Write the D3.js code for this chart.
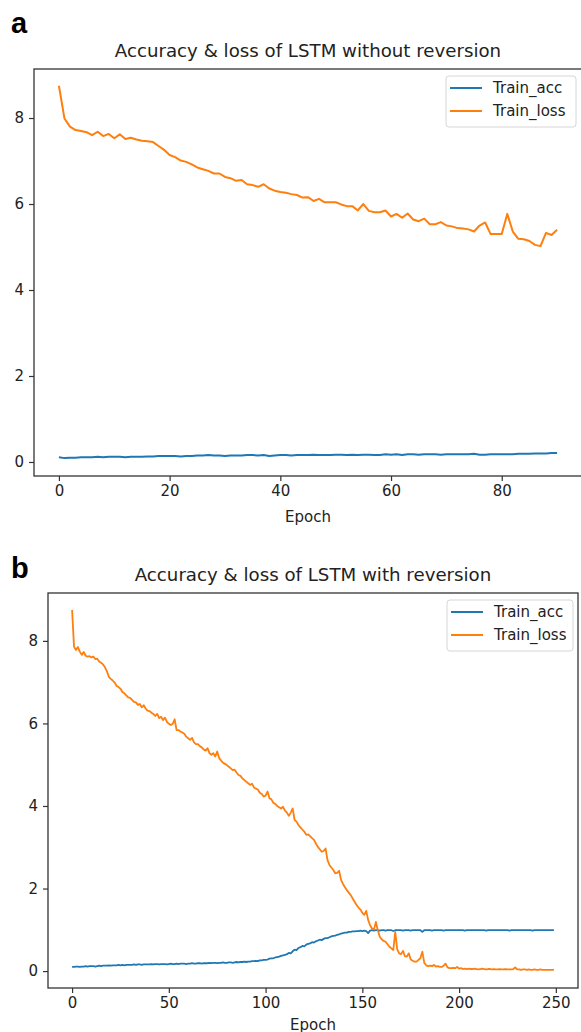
<!DOCTYPE html>
<html>
<head>
<meta charset="utf-8">
<script src="https://cdn.jsdelivr.net/npm/d3@7.9.0/dist/d3.min.js"></script>
<style>
  html, body { margin: 0; padding: 0; background: #fff; }
  svg { display: block; }
  text { font-family: "DejaVu Sans", sans-serif; fill: #222; }
</style>
</head>
<body>
<svg id="chart" width="581" height="1032"></svg>
<script>
// Panel a: LSTM without reversion (epochs 0..90)
const lossA = [
  8.75, 7.99, 7.80, 7.72, 7.70, 7.67, 7.60, 7.68, 7.58, 7.63,
  7.53, 7.62, 7.51, 7.54, 7.50, 7.47, 7.46, 7.44, 7.35, 7.26,
  7.14, 7.09, 7.01, 6.98, 6.92, 6.85, 6.81, 6.77, 6.71, 6.71,
  6.63, 6.60, 6.54, 6.56, 6.46, 6.44, 6.40, 6.46, 6.36, 6.31,
  6.28, 6.26, 6.23, 6.21, 6.15, 6.16, 6.07, 6.12, 6.04, 6.04,
  6.04, 5.99, 5.95, 5.95, 5.85, 6.00, 5.84, 5.81, 5.81, 5.85,
  5.71, 5.77, 5.68, 5.78, 5.64, 5.60, 5.66, 5.53, 5.53, 5.58,
  5.50, 5.48, 5.44, 5.43, 5.41, 5.36, 5.50, 5.57, 5.30, 5.30,
  5.30, 5.77, 5.36, 5.19, 5.18, 5.14, 5.05, 5.02, 5.33, 5.28, 5.40
];
const accA = [
  0.11, 0.09, 0.10, 0.10, 0.11, 0.11, 0.11, 0.12, 0.11, 0.12,
  0.12, 0.12, 0.11, 0.12, 0.12, 0.12, 0.13, 0.13, 0.14, 0.14,
  0.14, 0.14, 0.13, 0.14, 0.14, 0.15, 0.15, 0.16, 0.15, 0.15,
  0.14, 0.15, 0.15, 0.15, 0.16, 0.16, 0.15, 0.16, 0.14, 0.15,
  0.16, 0.16, 0.15, 0.16, 0.16, 0.16, 0.17, 0.16, 0.16, 0.16,
  0.17, 0.17, 0.16, 0.17, 0.16, 0.17, 0.17, 0.16, 0.16, 0.18,
  0.17, 0.18, 0.16, 0.18, 0.18, 0.17, 0.18, 0.18, 0.18, 0.17,
  0.18, 0.18, 0.18, 0.18, 0.18, 0.19, 0.17, 0.17, 0.18, 0.18,
  0.18, 0.18, 0.18, 0.19, 0.19, 0.19, 0.20, 0.20, 0.20, 0.21, 0.21
];

// Panel b: LSTM with reversion (epochs 0..249)
const lossB = [
  8.75, 7.86, 7.78, 7.85, 7.74, 7.66, 7.73, 7.64, 7.62, 7.63,
  7.60, 7.62, 7.56, 7.57, 7.50, 7.47, 7.43, 7.36, 7.26, 7.13,
  7.08, 7.04, 6.99, 6.91, 6.88, 6.84, 6.76, 6.73, 6.68, 6.63,
  6.62, 6.57, 6.52, 6.51, 6.45, 6.47, 6.39, 6.44, 6.36, 6.31,
  6.30, 6.26, 6.23, 6.18, 6.23, 6.13, 6.16, 6.08, 6.14, 6.04,
  5.99, 5.96, 5.99, 6.10, 5.84, 5.84, 5.80, 5.78, 5.75, 5.68,
  5.64, 5.60, 5.65, 5.54, 5.50, 5.50, 5.45, 5.42, 5.37, 5.34,
  5.40, 5.28, 5.24, 5.28, 5.20, 5.32, 5.16, 5.10, 5.05, 5.02,
  4.99, 4.95, 4.91, 4.87, 4.88, 4.81, 4.75, 4.73, 4.67, 4.63,
  4.59, 4.55, 4.51, 4.54, 4.45, 4.42, 4.40, 4.32, 4.29, 4.23,
  4.25, 4.35, 4.19, 4.16, 4.08, 4.05, 4.00, 3.97, 3.94, 3.98,
  3.89, 3.84, 3.76, 3.84, 3.94, 3.66, 3.62, 3.54, 3.48, 3.43,
  3.38, 3.30, 3.31, 3.27, 3.22, 3.18, 3.09, 3.01, 2.95, 2.89,
  2.91, 2.97, 2.69, 2.57, 2.51, 2.45, 2.37, 2.38, 2.43, 2.21,
  2.11, 2.03, 1.96, 1.90, 1.84, 1.76, 1.68, 1.60, 1.54, 1.49,
  1.41, 1.36, 1.46, 1.24, 1.11, 1.03, 1.01, 1.19, 0.99, 0.83,
  0.77, 0.73, 0.71, 0.65, 0.59, 0.55, 0.51, 0.95, 0.53, 0.43,
  0.41, 0.49, 0.36, 0.35, 0.43, 0.28, 0.25, 0.23, 0.23, 0.27,
  0.31, 0.47, 0.20, 0.14, 0.12, 0.13, 0.12, 0.15, 0.11, 0.12,
  0.10, 0.10, 0.13, 0.18, 0.09, 0.07, 0.07, 0.08, 0.07, 0.10,
  0.06, 0.07, 0.05, 0.06, 0.05, 0.06, 0.05, 0.05, 0.06, 0.05,
  0.04, 0.05, 0.06, 0.05, 0.04, 0.05, 0.05, 0.04, 0.05, 0.04,
  0.04, 0.05, 0.04, 0.04, 0.05, 0.04, 0.04, 0.04, 0.05, 0.09,
  0.04, 0.04, 0.03, 0.04, 0.04, 0.03, 0.04, 0.03, 0.03, 0.04,
  0.03, 0.03, 0.04, 0.03, 0.03, 0.03, 0.03, 0.03, 0.03, 0.03
];
const accB = [
  0.10, 0.10, 0.11, 0.11, 0.10, 0.11, 0.11, 0.12, 0.11, 0.12,
  0.12, 0.12, 0.11, 0.12, 0.13, 0.12, 0.13, 0.13, 0.13, 0.14,
  0.13, 0.14, 0.14, 0.14, 0.15, 0.14, 0.15, 0.14, 0.15, 0.15,
  0.15, 0.15, 0.16, 0.15, 0.16, 0.16, 0.15, 0.16, 0.16, 0.16,
  0.16, 0.17, 0.16, 0.17, 0.17, 0.16, 0.17, 0.17, 0.17, 0.16,
  0.17, 0.18, 0.17, 0.17, 0.18, 0.17, 0.18, 0.18, 0.18, 0.17,
  0.18, 0.18, 0.19, 0.18, 0.18, 0.19, 0.19, 0.18, 0.19, 0.19,
  0.19, 0.20, 0.19, 0.20, 0.20, 0.19, 0.20, 0.20, 0.21, 0.20,
  0.20, 0.21, 0.21, 0.20, 0.21, 0.22, 0.21, 0.22, 0.22, 0.23,
  0.22, 0.23, 0.23, 0.24, 0.24, 0.25, 0.24, 0.26, 0.26, 0.27,
  0.27, 0.28, 0.30, 0.31, 0.31, 0.33, 0.34, 0.35, 0.37, 0.38,
  0.39, 0.41, 0.44, 0.43, 0.48, 0.52, 0.51, 0.56, 0.58, 0.61,
  0.60, 0.64, 0.66, 0.67, 0.70, 0.69, 0.72, 0.74, 0.76, 0.75,
  0.78, 0.80, 0.80, 0.82, 0.84, 0.85, 0.86, 0.88, 0.89, 0.91,
  0.92, 0.93, 0.93, 0.95, 0.95, 0.96, 0.96, 0.97, 0.97, 0.98,
  0.97, 0.98, 0.97, 0.92, 0.98, 0.99, 0.98, 0.99, 0.99, 0.98,
  0.99, 0.99, 0.98, 0.99, 0.99, 0.99, 0.97, 0.99, 0.99, 0.99,
  0.99, 0.98, 0.99, 0.99, 0.99, 0.98, 0.99, 0.99, 0.99, 0.99,
  0.99, 0.95, 0.99, 0.99, 0.99, 0.99, 0.98, 0.99, 0.99, 0.99,
  0.99, 0.99, 0.98, 0.99, 0.99, 0.99, 0.99, 0.99, 0.99, 0.99,
  0.99, 0.99, 0.99, 0.98, 0.99, 0.99, 0.99, 0.99, 0.99, 0.99,
  0.99, 0.99, 0.99, 0.99, 0.98, 0.99, 0.99, 0.99, 0.99, 0.99,
  0.99, 0.99, 0.99, 0.99, 0.99, 0.99, 0.98, 0.99, 0.99, 0.99,
  0.99, 0.99, 0.99, 0.99, 0.99, 0.99, 0.99, 0.99, 0.98, 0.99,
  0.99, 0.99, 0.99, 0.99, 0.99, 0.99, 0.99, 0.99, 0.99, 0.99
];

const yTicks = [0, 2, 4, 6, 8];
const xTicksA = [0, 20, 40, 60, 80];
const xTicksB = [0, 50, 100, 150, 200, 250];
const seriesNames = ["Train_acc", "Train_loss"];
const colors = { acc: "#1f77b4", loss: "#ff7f0e" };

const svg = d3.select("#chart");

function drawPanel(cfg) {
  const g = svg.append("g");
  const x = d3.scaleLinear().domain(cfg.xDomain).range([cfg.left, cfg.right]);
  const y = d3.scaleLinear().domain(cfg.yDomain).range([cfg.bottom, cfg.top]);

  // panel letter
  g.append("text")
    .attr("x", cfg.letterX).attr("y", cfg.letterY)
    .style("font-family", "'Liberation Sans', Arial, sans-serif")
    .style("font-weight", "bold")
    .style("font-size", "29px")
    .style("fill", "#000")
    .text(cfg.letter);

  // title
  g.append("text")
    .attr("x", (cfg.left + cfg.right) / 2).attr("y", cfg.top - 12)
    .attr("text-anchor", "middle")
    .style("font-size", "18.2px")
    .text(cfg.title);

  const line = d3.line().x((d, i) => x(i)).y(d => y(d));

  const plot = g.append("g");
  plot.append("path").datum(cfg.acc)
    .attr("d", line).attr("fill", "none")
    .attr("stroke", colors.acc).attr("stroke-width", cfg.lw)
    .attr("stroke-linejoin", "round");
  plot.append("path").datum(cfg.loss)
    .attr("d", line).attr("fill", "none")
    .attr("stroke", colors.loss).attr("stroke-width", cfg.lw)
    .attr("stroke-linejoin", "round");

  // axes
  const xAxis = g.append("g")
    .attr("transform", `translate(0,${cfg.bottom})`)
    .call(d3.axisBottom(x).tickValues(cfg.xTicks).tickSize(5).tickPadding(4));
  const yAxis = g.append("g")
    .attr("transform", `translate(${cfg.left},0)`)
    .call(d3.axisLeft(y).tickValues(yTicks).tickSize(5).tickPadding(5));
  [xAxis, yAxis].forEach(a => {
    a.select(".domain").remove();
    a.selectAll("line").attr("stroke", "#333").attr("stroke-width", 1.2);
    a.selectAll("text").style("font-size", "15px").style("font-family", "'DejaVu Sans', sans-serif").attr("fill", "#222");
  });

  // frame
  g.append("rect")
    .attr("x", cfg.left).attr("y", cfg.top)
    .attr("width", cfg.right - cfg.left).attr("height", cfg.bottom - cfg.top)
    .attr("fill", "none").attr("stroke", "#333").attr("stroke-width", 1.3);

  // x label
  g.append("text")
    .attr("x", (cfg.left + cfg.right) / 2).attr("y", cfg.bottom + cfg.labelDy)
    .attr("text-anchor", "middle")
    .style("font-size", "15px")
    .text("Epoch");

  // legend
  const lg = g.append("g").attr("transform", `translate(${cfg.legX},${cfg.legY})`);
  lg.append("rect")
    .attr("width", cfg.legW).attr("height", 51)
    .attr("rx", 3).attr("fill", "#fff")
    .attr("stroke", "#d6d6d6").attr("stroke-width", 1);
  [colors.acc, colors.loss].forEach((c, i) => {
    const ry = 12 + i * 23;
    lg.append("line")
      .attr("x1", 4).attr("x2", 36).attr("y1", ry).attr("y2", ry)
      .attr("stroke", c).attr("stroke-width", 2);
    lg.append("text")
      .attr("x", 47).attr("y", ry + 5)
      .style("font-size", "15px")
      .text(seriesNames[i]);
  });
}

drawPanel({
  letter: "a", letterX: 11, letterY: 33,
  title: "Accuracy & loss of LSTM without reversion",
  left: 34, right: 582, top: 69, bottom: 476,
  xDomain: [-4.5, 94.5], yDomain: [-0.326, 9.14],
  xTicks: xTicksA, acc: accA, loss: lossA, lw: 2,
  legX: 446, legY: 76, legW: 130, labelDy: 46
});

drawPanel({
  letter: "b", letterX: 11, letterY: 578,
  title: "Accuracy & loss of LSTM with reversion",
  left: 48, right: 578, top: 593, bottom: 988,
  xDomain: [-12.45, 261.45], yDomain: [-0.41, 9.16],
  xTicks: xTicksB, acc: accB, loss: lossB, lw: 1.8,
  legX: 447, legY: 600, legW: 126, labelDy: 42
});
</script>
</body>
</html>
